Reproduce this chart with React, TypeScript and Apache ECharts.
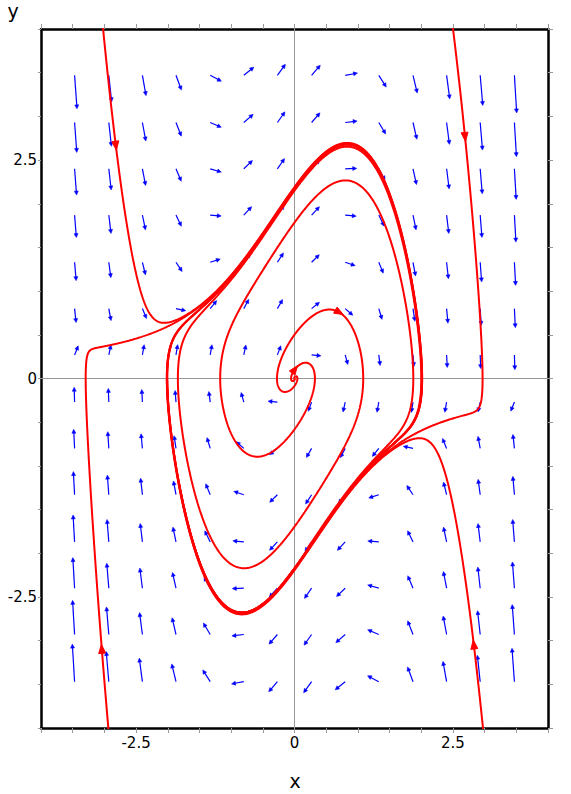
import React, { useEffect, useRef } from "react";
import * as echarts from "echarts";

// System: van der Pol oscillator  x' = y,  y' = MU (1 - x^2) y - x
const MU = 1;
const X_MIN = -4;
const X_MAX = 4;
const Y_MIN = -4;
const Y_MAX = 4;
const X_TICK_LABELS = [-2.5, 0, 2.5];
const Y_TICK_LABELS = [-2.5, 0, 2.5];

// direction-field grid
const FIELD_X = [-3.47, -2.93, -2.4, -1.87, -1.33, -0.8, -0.27, 0.27, 0.8, 1.33, 1.87, 2.4, 2.93, 3.47];
const FIELD_Y = [-3.47, -2.93, -2.4, -1.87, -1.33, -0.8, -0.27, 0.27, 0.8, 1.33, 1.87, 2.4, 2.93, 3.47];

// trajectory initial points
const START_X = [-2.82, 2.69, -3.04, 2.83, 0.7, 0.0];
const START_Y = [2.67, 2.77, -3.1, -3.05, 0.76, 0.1];
const T_FORWARD = 10;
const T_BACKWARD = 10;

function field(x: number, y: number): [number, number] {
  return [y, MU * (1 - x * x) * y - x];
}

function integrate(x0: number, y0: number, T: number, dir: number): number[][] {
  const h = 0.004 * dir;
  const n = Math.round(T / 0.004);
  const pts: number[][] = [[x0, y0]];
  let x = x0;
  let y = y0;
  for (let i = 0; i < n; i++) {
    const k1 = field(x, y);
    const k2 = field(x + (h / 2) * k1[0], y + (h / 2) * k1[1]);
    const k3 = field(x + (h / 2) * k2[0], y + (h / 2) * k2[1]);
    const k4 = field(x + h * k3[0], y + h * k3[1]);
    x += (h / 6) * (k1[0] + 2 * k2[0] + 2 * k3[0] + k4[0]);
    y += (h / 6) * (k1[1] + 2 * k2[1] + 2 * k3[1] + k4[1]);
    if (i % 2 === 1) pts.push([x, y]);
    if (Math.abs(x) > 4.5 || Math.abs(y) > 4.5) {
      pts.push([x, y]);
      break;
    }
  }
  return pts;
}

function fmt(v: number, labels: number[]) {
  const hit = labels.some((t) => Math.abs(t - v) < 1e-9);
  if (!hit) return "";
  if (Math.abs(v) < 1e-9) return "0";
  return v.toFixed(1);
}

const FONT = "DejaVu Sans";

export default function App() {
  const ref = useRef<HTMLDivElement>(null);
  useEffect(() => {
    if (!ref.current) return;
    const chart = echarts.init(ref.current, undefined, { renderer: "svg" });

    const fieldData: number[][] = [];
    FIELD_X.forEach((x) => FIELD_Y.forEach((y) => fieldData.push([x, y])));

    const trajSeries = START_X.map((x0, i) => {
      const y0 = START_Y[i];
      const back = integrate(x0, y0, T_BACKWARD, -1).reverse();
      const fwd = integrate(x0, y0, T_FORWARD, 1);
      const data = back.concat(fwd.slice(1));
      return {
        type: "line",
        data,
        showSymbol: false,
        symbol: "none",
        smooth: false,
        clip: true,
        silent: true,
        z: 5,
        lineStyle: { color: "#ff0000", width: 2 },
      };
    });

    const startData = START_X.map((x, i) => [x, START_Y[i]]);

    const frameLine = { show: true, onZero: false, lineStyle: { color: "#000", width: 2.5 } };
    const tickStyle = { show: true, length: 5, lineStyle: { color: "#999", width: 1 } };

    const option: any = {
      animation: false,
      grid: {
        left: 41,
        right: 23,
        top: 29,
        bottom: 66,
        show: false,
      },
      xAxis: [
        {
          type: "value",
          min: X_MIN,
          max: X_MAX,
          interval: 0.5,
          position: "bottom",
          axisLine: frameLine,
          splitLine: { show: false },
          axisTick: tickStyle,
          axisLabel: {
            formatter: (v: number) => fmt(v, X_TICK_LABELS),
            color: "#000",
            fontFamily: FONT,
            fontSize: 15,
            margin: 7,
            showMinLabel: true,
            showMaxLabel: true,
          },
        },
        {
          type: "value",
          min: X_MIN,
          max: X_MAX,
          interval: 0.5,
          position: "top",
          axisLine: frameLine,
          splitLine: { show: false },
          axisTick: tickStyle,
          axisLabel: { show: false },
        },
      ],
      yAxis: [
        {
          type: "value",
          min: Y_MIN,
          max: Y_MAX,
          interval: 0.5,
          position: "left",
          axisLine: frameLine,
          splitLine: { show: false },
          axisTick: { ...tickStyle, length: 3 },
          axisLabel: {
            formatter: (v: number) => fmt(v, Y_TICK_LABELS),
            color: "#000",
            fontFamily: FONT,
            fontSize: 15,
            margin: 4,
          },
        },
        {
          type: "value",
          min: Y_MIN,
          max: Y_MAX,
          interval: 0.5,
          position: "right",
          axisLine: frameLine,
          splitLine: { show: false },
          axisTick: tickStyle,
          axisLabel: { show: false },
        },
      ],
      graphic: [
        {
          type: "text",
          x: 295,
          y: 781,
          style: {
            text: "x",
            font: `19px "${FONT}"`,
            fill: "#000",
            align: "center",
            verticalAlign: "middle",
          },
        },
        {
          type: "text",
          x: 13,
          y: 11,
          style: {
            text: "y",
            font: `19px "${FONT}"`,
            fill: "#000",
            align: "center",
            verticalAlign: "middle",
          },
        },
      ],
      series: [
        {
          type: "line",
          data: [],
          silent: true,
          z: 1,
          markLine: {
            silent: true,
            symbol: ["none", "none"],
            label: { show: false },
            lineStyle: { color: "#999", type: "solid", width: 1 },
            data: [{ xAxis: 0 }, { yAxis: 0 }],
          },
        },
        {
          type: "custom",
          data: fieldData,
          silent: true,
          z: 3,
          clip: true,
          renderItem: (params: any, api: any) => {
            const x = api.value(0);
            const y = api.value(1);
            const p = api.coord([x, y]);
            const s = api.size([1, 1]);
            const [u, v] = field(x, y);
            const px = u * s[0];
            const py = -v * s[1];
            const norm = Math.hypot(px, py) || 1;
            const dx = px / norm;
            const dy = py / norm;
            const m = Math.hypot(u, v);
            const L = 9 + 1.2 * Math.pow(m, 0.85);
            const hx = p[0] + dx * L;
            const hy = p[1] + dy * L;
            const nx = -dy;
            const ny = dx;
            const ah = 4;
            const aw = 2;
            return {
              type: "group",
              children: [
                {
                  type: "line",
                  shape: { x1: p[0], y1: p[1], x2: hx - dx * 2, y2: hy - dy * 2 },
                  style: { stroke: "#0000ff", lineWidth: 1.2 },
                },
                {
                  type: "polygon",
                  shape: {
                    points: [
                      [hx, hy],
                      [hx - dx * ah + nx * aw, hy - dy * ah + ny * aw],
                      [hx - dx * ah - nx * aw, hy - dy * ah - ny * aw],
                    ],
                  },
                  style: { fill: "#0000ff", stroke: "#0000ff", lineWidth: 0.5 },
                },
              ],
            };
          },
        },
        ...trajSeries,
        {
          type: "custom",
          data: startData,
          silent: true,
          z: 6,
          renderItem: (params: any, api: any) => {
            const x = api.value(0);
            const y = api.value(1);
            const p = api.coord([x, y]);
            const s = api.size([1, 1]);
            const [u, v] = field(x, y);
            const px = u * s[0];
            const py = -v * s[1];
            const norm = Math.hypot(px, py) || 1;
            const dx = px / norm;
            const dy = py / norm;
            const nx = -dy;
            const ny = dx;
            const tip = 5;
            const back = 4;
            const w = 3.5;
            return {
              type: "polygon",
              shape: {
                points: [
                  [p[0] + dx * tip, p[1] + dy * tip],
                  [p[0] - dx * back + nx * w, p[1] - dy * back + ny * w],
                  [p[0] - dx * back - nx * w, p[1] - dy * back - ny * w],
                ],
              },
              style: { fill: "#ff0000", stroke: "#ff0000" },
            };
          },
        },
      ],
    };
    chart.setOption(option);
    return () => chart.dispose();
  }, []);
  return (
    <div
      ref={ref}
      style={{ position: "fixed", left: 0, top: 0, width: 571, height: 794, background: "#fff" }}
    />
  );
}
